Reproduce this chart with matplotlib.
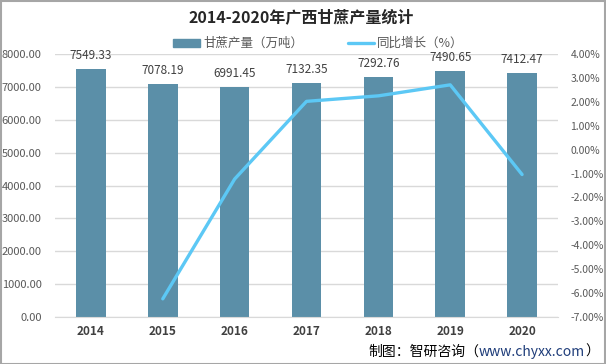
import matplotlib
matplotlib.use("Agg")
import matplotlib.pyplot as plt
from matplotlib.patches import Rectangle
from matplotlib.lines import Line2D

plt.rcParams['font.family'] = ['Noto Sans CJK SC', 'DejaVu Sans']

years = ['2014', '2015', '2016', '2017', '2018', '2019', '2020']
output = [7549.33, 7078.19, 6991.45, 7132.35, 7292.76, 7490.65, 7412.47]
growth_years = ['2015', '2016', '2017', '2018', '2019', '2020']
growth = [-6.24, -1.23, 2.02, 2.25, 2.71, -1.04]

bar_color = '#5B8FA8'
line_color = '#5CC8F5'
text_gray = '#595959'

fig = plt.figure(figsize=(6.06, 3.64), dpi=100)
ax = fig.add_axes([55 / 606, 1 - 317 / 364, 503 / 606, 263 / 364])
x = list(range(len(years)))
ax.bar(x, output, width=0.41, color=bar_color, zorder=2)
ax.set_xlim(-0.5, len(years) - 0.5)
ax.set_ylim(0, 8000)
ax.set_yticks(range(0, 8001, 1000))
ax.set_yticklabels([f"{v:.2f}" for v in range(0, 8001, 1000)], color=text_gray, fontsize=8)
ax.set_xticks(x)
ax.set_xticklabels(years, fontweight='bold', color='#404040', fontsize=8.5)
ax.tick_params(axis='both', length=0)
ax.tick_params(axis='y', pad=9.5)
ax.tick_params(axis='x', pad=6)
ax.grid(axis='y', color='#D9D9D9', linewidth=1, zorder=0)
ax.set_axisbelow(True)
for s in ['top', 'right', 'left']:
    ax.spines[s].set_visible(False)
ax.spines['bottom'].set_color('#D9D9D9')
for xi, v in zip(x, output):
    ax.annotate(f"{v:.2f}", (xi, v), xytext=(0, 5), textcoords='offset points',
                ha='center', va='bottom', fontsize=8.5, color='#404040')

ax2 = ax.twinx()
gx = [years.index(y) for y in growth_years]
ax2.plot(gx, growth, color=line_color, linewidth=2.4, solid_capstyle='round', zorder=3)
ax2.set_ylim(-7, 4)
ax2.set_yticks(range(-7, 5))
ax2.set_yticklabels([f"{v:.2f}%" for v in range(-7, 5)], color=text_gray, fontsize=7.5)
ax2.tick_params(axis='y', length=0, pad=9)
for s in ['top', 'right', 'left', 'bottom']:
    ax2.spines[s].set_visible(False)

fig.text(0.497, 0.952, '2014-2020年广西甘蔗产量统计', ha='center', va='center',
         fontsize=11.5, fontweight='bold', color='#262626')

# legend
fig.patches.append(Rectangle((173 / 606, 1 - 47 / 364), 27 / 606, 8 / 364,
                             transform=fig.transFigure, color=bar_color))
fig.text(203 / 606, 1 - 43 / 364, '甘蔗产量（万吨）', ha='left', va='center', fontsize=9, color=text_gray)
fig.lines.append(Line2D([348 / 606, 374 / 606], [1 - 43 / 364, 1 - 43 / 364],
                        transform=fig.transFigure, color=line_color, linewidth=2.4,
                        solid_capstyle='round'))
fig.text(377 / 606, 1 - 43 / 364, '同比增长（%）', ha='left', va='center', fontsize=9, color=text_gray)

# source text
renderer = fig.canvas.get_renderer()
ty = 1 - 352 / 364
t3 = fig.text(599 / 606, ty, '）', ha='right', va='center', fontsize=10, color='#000000')
bb = t3.get_window_extent(renderer)
t2 = fig.text(bb.x0 / 606, ty, 'www.chyxx.com', ha='right', va='center', fontsize=10, color='#1F3D7A')
bb2 = t2.get_window_extent(renderer)
fig.text(bb2.x0 / 606, ty, '制图：智研咨询（', ha='right', va='center', fontsize=10, color='#000000')

# border
fig.patches.append(Rectangle((0.001, 0.001), 0.997, 0.996, transform=fig.transFigure,
                             fill=False, edgecolor='#A6A6A6', linewidth=1.5))

fig.savefig('out.png', dpi=100)
